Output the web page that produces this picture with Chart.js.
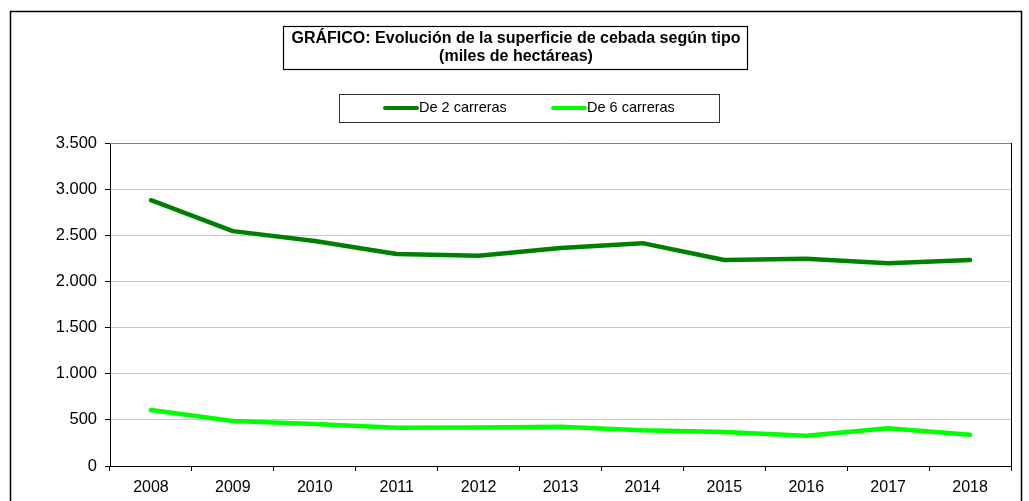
<!DOCTYPE html>
<html>
<head>
<meta charset="utf-8">
<script src="https://cdn.jsdelivr.net/npm/chart.js@4"></script>
<style>
  html, body { margin: 0; padding: 0; background: #fff; }
  #wrap { width: 1029px; height: 501px; }
</style>
</head>
<body>
<div id="wrap"><canvas id="chart" width="1029" height="501"></canvas></div>
<script>
const years = ["2008", "2009", "2010", "2011", "2012", "2013", "2014", "2015", "2016", "2017", "2018"];
const dosCarreras = [2880, 2545, 2438, 2297, 2279, 2362, 2415, 2232, 2246, 2196, 2232];
const seisCarreras = [607, 488, 455, 415, 418, 426, 387, 368, 328, 408, 339];
const seriesNames = ["De 2 carreras", "De 6 carreras"];
const seriesColors = ["#008000", "#00ff00"];
const titleLines = ["GRÁFICO: Evolución de la superficie de cebada según tipo", "(miles de hectáreas)"];

const fmt = v => v.toString().replace(/\B(?=(\d{3})+(?!\d))/g, ".");

// frame, title box and legend box drawn around the chart
const decor = {
    id: 'decor',
    afterDraw(chart) {
        const ctx = chart.ctx;
        const a = chart.chartArea;
        ctx.save();

        // outer border
        ctx.strokeStyle = '#000';
        ctx.lineWidth = 1.5;
        ctx.strokeRect(10.5, 11.5, 1011, 520);

        // plot frame: top grey, right black
        ctx.lineWidth = 1;
        ctx.strokeStyle = '#808080';
        ctx.beginPath();
        ctx.moveTo(a.left, a.top + 0.5);
        ctx.lineTo(a.right, a.top + 0.5);
        ctx.stroke();
        ctx.strokeStyle = '#000';
        ctx.beginPath();
        ctx.moveTo(a.right + 0.5, a.top);
        ctx.lineTo(a.right + 0.5, a.bottom);
        ctx.stroke();

        // title
        ctx.strokeStyle = '#000';
        ctx.lineWidth = 1.2;
        ctx.strokeRect(283.5, 26.5, 464, 43);
        ctx.fillStyle = '#000';
        ctx.font = 'bold 16px "Liberation Sans", Arial, sans-serif';
        ctx.textAlign = 'center';
        ctx.textBaseline = 'middle';
        ctx.fillText(titleLines[0], 516, 39);
        ctx.fillText(titleLines[1], 516, 57);

        // legend
        ctx.strokeStyle = '#333';
        ctx.lineWidth = 1;
        ctx.strokeRect(339.5, 94.5, 380, 28);
        ctx.font = '14.5px "Liberation Sans", Arial, sans-serif';
        ctx.textAlign = 'left';
        const starts = [385, 553];
        chart.data.datasets.forEach((ds, i) => {
            ctx.strokeStyle = ds.borderColor;
            ctx.lineWidth = 4;
            ctx.lineCap = 'round';
            ctx.beginPath();
            ctx.moveTo(starts[i], 108);
            ctx.lineTo(starts[i] + 32, 108);
            ctx.stroke();
            ctx.fillStyle = '#000';
            ctx.fillText(ds.label, starts[i] + 34, 108);
        });
        ctx.restore();
    }
};

new Chart(document.getElementById('chart'), {
    type: 'line',
    data: {
        labels: years,
        datasets: [
            { label: seriesNames[0], data: dosCarreras, borderColor: seriesColors[0], backgroundColor: seriesColors[0] },
            { label: seriesNames[1], data: seisCarreras, borderColor: seriesColors[1], backgroundColor: seriesColors[1] }
        ]
    },
    options: {
        responsive: false,
        animation: false,
        layout: { padding: { left: 0, right: 18, top: 143, bottom: 0 } },
        elements: {
            line: { borderWidth: 4.5, tension: 0, borderCapStyle: 'round', borderJoinStyle: 'round' },
            point: { radius: 0 }
        },
        plugins: {
            legend: { display: false },
            title: { display: false },
            tooltip: { enabled: false }
        },
        scales: {
            x: {
                offset: true,
                afterFit: s => { s.height = 35; },
                grid: { offset: true, drawOnChartArea: false, drawTicks: true, tickLength: 5, tickColor: '#000' },
                border: { color: '#000', width: 1 },
                ticks: { color: '#000', padding: 7, maxRotation: 0, font: { family: '"Liberation Sans", Arial, sans-serif', size: 16 } }
            },
            y: {
                min: 0,
                max: 3500,
                afterFit: s => { s.width = 110; },
                grid: { color: '#c8c8c8', tickColor: '#000', tickLength: 5 },
                border: { color: '#000', width: 1 },
                ticks: {
                    stepSize: 500,
                    color: '#000',
                    padding: 8,
                    font: { family: '"Liberation Sans", Arial, sans-serif', size: 16.5 },
                    callback: v => fmt(v)
                }
            }
        }
    },
    plugins: [decor]
});
</script>
</body>
</html>
